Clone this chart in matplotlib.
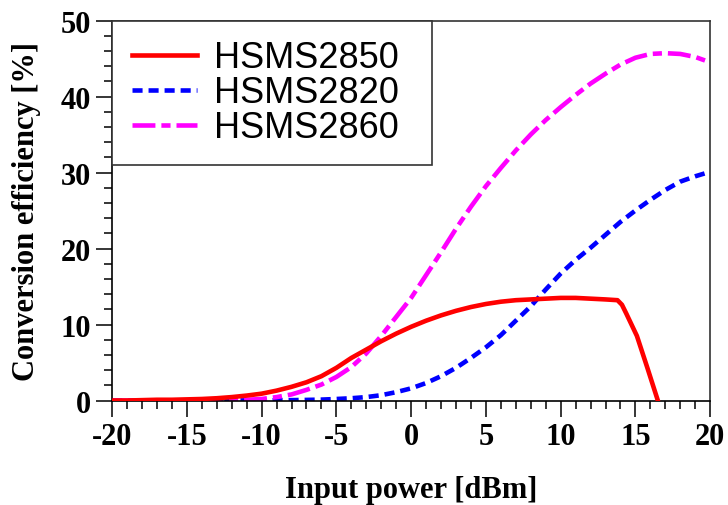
import numpy as np
import matplotlib
matplotlib.use("Agg")
import matplotlib.pyplot as plt
from matplotlib.ticker import MultipleLocator
from matplotlib.font_manager import FontProperties

plt.rcParams["axes.unicode_minus"] = False

# Input power [dBm] and conversion efficiency [%]
x_2850 = [-20, -19, -18, -17, -16, -15, -14, -13, -12, -11, -10, -9, -8, -7, -6,
          -5, -4, -3, -2, -1, 0, 1, 2, 3, 4, 5, 6, 7, 8, 9, 10, 11, 12, 13,
          13.8, 14.1, 14.4, 15.1, 15.8, 16.5]
eff_2850 = [0.0, 0.0, 0.05, 0.1, 0.1, 0.15, 0.2, 0.3, 0.45, 0.65, 0.9, 1.3, 1.8, 2.4, 3.2,
            4.3, 5.6, 6.7, 7.8, 8.8, 9.7, 10.5, 11.2, 11.8, 12.3, 12.7, 13.0, 13.2, 13.3, 13.4, 13.5, 13.5, 13.4, 13.3,
            13.2, 12.6, 11.4, 8.5, 4.3, 0.0]

x_2820 = [-20, -15, -10, -8, -7, -6, -5, -4, -3, -2, -1, 0, 1, 2, 3, 4, 5,
          6, 7, 8, 9, 10, 11, 12, 13, 14, 15, 16, 17, 18, 19, 20]
eff_2820 = [0.0, 0.0, 0.02, 0.05, 0.08, 0.12, 0.2, 0.3, 0.45, 0.7, 1.1, 1.6, 2.3, 3.2, 4.3, 5.6, 7.0,
            8.6, 10.5, 12.4, 14.6, 16.7, 18.5, 20.1, 21.8, 23.5, 25.0, 26.4, 27.7, 28.8, 29.5, 30.1]

x_2860 = [-20, -15, -12, -11, -10, -9, -8, -7, -6, -5, -4, -3, -2, -1, 0,
          1, 2, 3, 4, 5, 6, 7, 8, 9, 10, 11, 12, 13, 14, 15, 16, 17, 18, 19, 20]
eff_2860 = [0.0, 0.01, 0.05, 0.1, 0.2, 0.45, 0.8, 1.4, 2.1, 3.1, 4.4, 6.2, 8.5, 11.0, 13.5,
            16.5, 19.5, 22.6, 25.5, 28.2, 30.6, 32.9, 35.0, 36.9, 38.6, 40.2, 41.7, 43.0, 44.2, 45.1, 45.6, 45.7, 45.6, 45.2, 44.5]

fig = plt.figure(figsize=(7.28, 5.06), dpi=100)
ax = fig.add_axes([0.154, 0.2065, 0.8215, 0.751])

lw = 3.3
ax.plot(x_2850, eff_2850, color="red", lw=lw, label="HSMS2850", zorder=3)
ax.plot(x_2820, eff_2820, color="blue", lw=lw, dashes=(2.2, 1.3), dash_capstyle="butt",
        label="HSMS2820", zorder=2)
ax.plot(x_2860, eff_2860, color="magenta", lw=lw, dashes=(5, 1.3, 2, 1.3), dash_capstyle="butt",
        label="HSMS2860", zorder=2)

ax.set_xlim(-20, 20)
ax.set_ylim(0, 50)
ax.xaxis.set_major_locator(MultipleLocator(5))
ax.xaxis.set_minor_locator(MultipleLocator(1))
ax.yaxis.set_major_locator(MultipleLocator(10))
ax.yaxis.set_minor_locator(MultipleLocator(2))
ax.tick_params(which="both", direction="out", top=False, right=False, width=1.1, color="black")
ax.tick_params(which="major", length=11.5, pad=4)
ax.tick_params(which="minor", length=6)

tick_font = FontProperties(family="Liberation Serif", weight="bold", size=22)
for lab in ax.get_xticklabels() + ax.get_yticklabels():
    lab.set_fontproperties(tick_font)

for sp in ax.spines.values():
    sp.set_linewidth(1.2)
    sp.set_color("#333333")
ax.spines["left"].set_color("black")
ax.spines["bottom"].set_color("black")

ax.set_xlabel("Input power [dBm]", fontfamily="Liberation Serif", fontweight="bold",
              fontsize=22, labelpad=17)
ax.set_ylabel("Conversion efficiency [%]", fontfamily="Liberation Serif", fontweight="bold",
              fontsize=22, labelpad=14)

leg = ax.legend(loc="upper left", bbox_to_anchor=(0, 0, 0.535, 1), mode="expand",
                borderaxespad=0, fancybox=False, framealpha=1, edgecolor="#333333",
                prop=dict(family="Liberation Sans", size=26), handlelength=1.8,
                handletextpad=0.47, labelspacing=0.0, borderpad=0.55)
leg.get_frame().set_linewidth(1.2)

fig.savefig("out.png", dpi=100)
